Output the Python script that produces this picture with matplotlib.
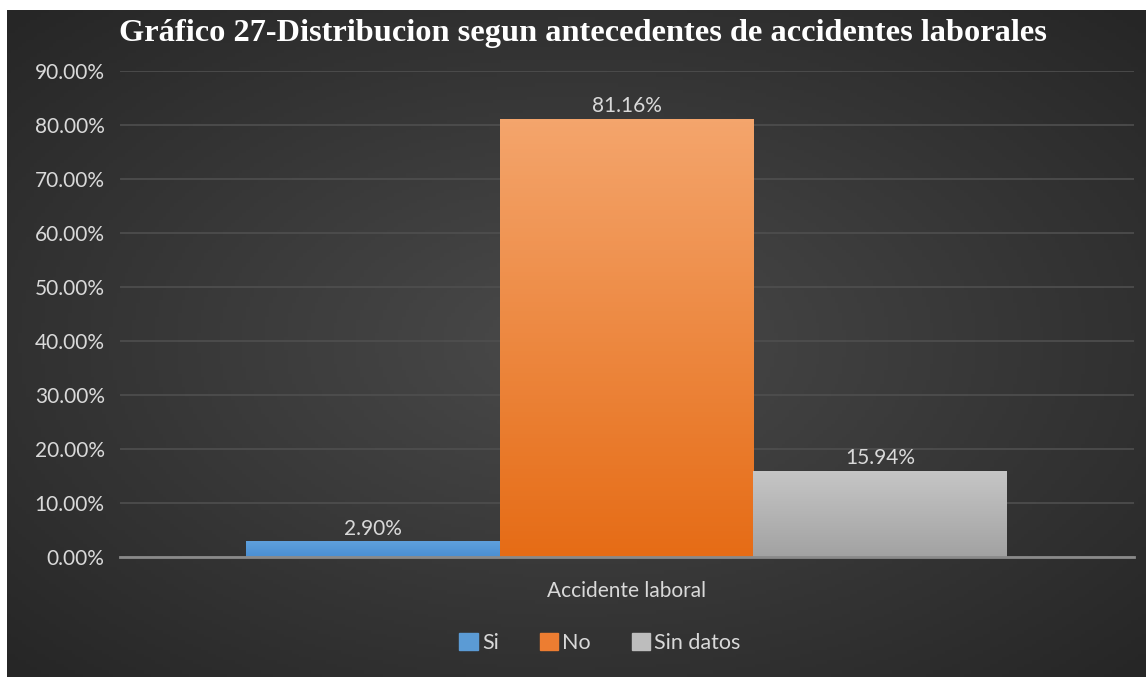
import numpy as np
import matplotlib.pyplot as plt
from matplotlib.colors import LinearSegmentedColormap

# datos
categoria = "Accidente laboral"
series = ["Si", "No", "Sin datos"]
valores = [0.0290, 0.8116, 0.1594]
etiquetas = ["2.90%", "81.16%", "15.94%"]
ticks_y = [0.0, 0.1, 0.2, 0.3, 0.4, 0.5, 0.6, 0.7, 0.8, 0.9]
titulo = "Gráfico 27-Distribucion segun antecedentes de accidentes laborales"

# colores (arriba, abajo) para el degradado de cada barra
colores = [("#5fa0dc", "#4a8fd3"), ("#f4a56c", "#e66c16"), ("#c6c6c6", "#a2a2a2")]
colores_leyenda = ["#5b9bd5", "#ed7d31", "#bdbdbd"]
texto = "#d9d9d9"
fs = 15

fig = plt.figure(figsize=(11.46, 6.77), dpi=100, facecolor="white")

# fondo oscuro con degradado radial
bg = fig.add_axes([7 / 1146, 0, 1 - 7 / 1146, 1 - 10 / 677])
gx, gy = np.meshgrid(np.linspace(-1, 1, 300), np.linspace(-1, 1, 200))
r = np.clip(np.sqrt(gx ** 2 + gy ** 2) / 1.41, 0, 1)
cmap_bg = LinearSegmentedColormap.from_list("bg", ["#4a4a4a", "#262626"])
bg.imshow(r, cmap=cmap_bg, aspect="auto", extent=[0, 1, 0, 1], vmin=0, vmax=1)
bg.set_axis_off()

ax = fig.add_axes([120 / 1146, 1 - 557 / 677, (1134 - 120) / 1146, (557 - 71) / 677])
ax.patch.set_alpha(0)

x = np.arange(len(series)) - 1.0
bars = ax.bar(x, valores, width=1.0, color=[c[1] for c in colores], zorder=2)

# degradado vertical dentro de cada barra
for b, (top, bot) in zip(bars, colores):
    cm = LinearSegmentedColormap.from_list("g", [bot, top])
    x0, y0 = b.get_x(), b.get_y()
    w, h = b.get_width(), b.get_height()
    grad = np.linspace(0, 1, 100).reshape(-1, 1)
    im = ax.imshow(grad, cmap=cm, aspect="auto", origin="lower",
                   extent=[x0, x0 + w, y0, y0 + h], zorder=2.5)
    im.set_clip_path(b)

for xi, v, lab in zip(x, valores, etiquetas):
    ax.text(xi, v + 0.005, lab, ha="center", va="bottom", color=texto,
            fontsize=fs, family="Lato", zorder=4)

ax.set_xlim(-1.5 - (246 - 120) / 253.7, 1.5 + (1134 - 1007) / 253.7)
ax.set_ylim(0, 0.9)
ax.set_yticks(ticks_y)
ax.set_yticklabels([f"{t * 100:.2f}%" for t in ticks_y])
ax.set_xticks([0])
ax.set_xticklabels([categoria])
ax.tick_params(axis="both", length=0, colors=texto, labelsize=fs, labelfontfamily="Lato")
ax.tick_params(axis="y", pad=11)
ax.tick_params(axis="x", pad=17)
ax.grid(axis="y", color="#4f4f4f", linewidth=1.2, zorder=0)
for s in ["top", "right", "left"]:
    ax.spines[s].set_visible(False)
ax.spines["bottom"].set_color("#8a8a8a")
ax.spines["bottom"].set_linewidth(2)
ax.spines["bottom"].set_zorder(3)

handles = [plt.Rectangle((0, 0), 1, 1, color=c) for c in colores_leyenda]
fig.legend(handles, series, loc="center", bbox_to_anchor=(600 / 1146, 1 - 643 / 677),
           ncol=3, frameon=False, handlelength=0.85, handleheight=0.85,
           handletextpad=0.2, columnspacing=1.9,
           prop={"family": "Lato", "size": fs + 0.5}, labelcolor=texto)

fig.text(583 / 1146, 1 - 33 / 677, titulo, ha="center", va="center",
         color="white", fontsize=23.3, fontweight="bold", family="Liberation Serif")

fig.savefig("out.png", dpi=100, facecolor="white")
